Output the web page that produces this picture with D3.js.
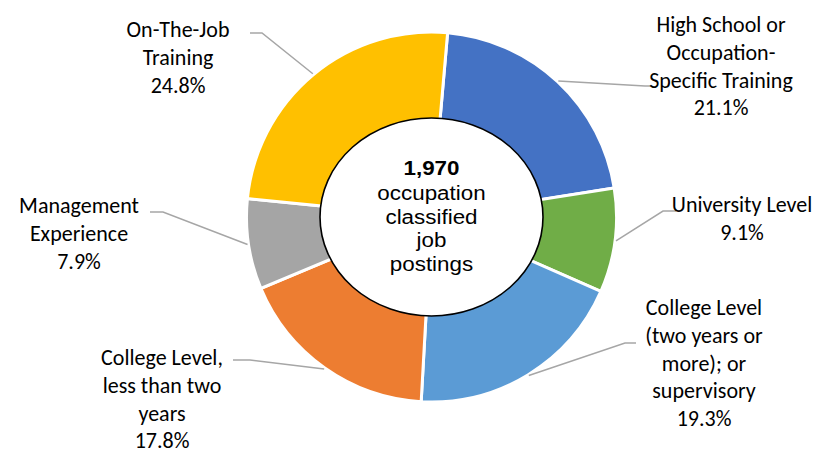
<!DOCTYPE html>
<html>
<head>
<meta charset="utf-8">
<script src="https://cdn.jsdelivr.net/npm/d3@7"></script>
<style>
	body { margin: 0; background: #fff; }
	svg { display: block; }
</style>
</head>
<body>
<div class="container"></div>
<script>
// chart values
var categories = [
	"High School or Occupation-Specific Training",
	"University Level",
	"College Level (two years or more); or supervisory",
	"College Level, less than two years",
	"Management Experience",
	"On-The-Job Training"
];
var shares = [21.1, 9.1, 19.3, 17.8, 7.9, 24.8];
var colors = ["#4472C4", "#70AD47", "#5B9BD5", "#ED7D31", "#A5A5A5", "#FFC000"];
var labelLines = [
	["High School or", "Occupation-", "Specific Training"],
	["University Level"],
	["College Level", "(two years or", "more); or", "supervisory"],
	["College Level,", "less than two", "years"],
	["Management", "Experience"],
	["On-The-Job", "Training"]
];
var totalPostings = "1,970";
var centerLines = ["occupation", "classified", "job", "postings"];

// label layout: text centre x, first baseline, elbow and end of leader
var labelLayout = [
	{x: 721, y: 32, elbow: [645, 86], end: [651, 86]},
	{x: 742, y: 212, elbow: [663, 211], end: [676, 211]},
	{x: 704, y: 315, elbow: [625, 343], end: [636, 343]},
	{x: 162, y: 365, elbow: [250, 360], end: [233, 360]},
	{x: 79, y: 213, elbow: [163, 212], end: [150, 212]},
	{x: 178, y: 37, elbow: [262, 33], end: [250, 33]}
];

var width = 840, height = 454;
var cx = 431.5, cy = 217, outerR = 185, innerR = 90;
var lineStep = 27.8;

var svg = d3.select(".container").append("svg")
	.attr("width", width)
	.attr("height", height);

var pie = d3.pie()
	.sort(null)
	.value(function(d) { return d; })
	.startAngle(5 * Math.PI / 180)
	.endAngle(2 * Math.PI + 5 * Math.PI / 180);

var arc = d3.arc()
	.innerRadius(innerR)
	.outerRadius(outerR);

var arcs = pie(shares);

var chart = svg.append("g").attr("transform", "translate(" + cx + "," + cy + ")");

chart.selectAll("path.slice")
	.data(arcs)
	.enter().append("path")
	.attr("class", "slice")
	.attr("d", arc)
	.style("fill", function(d, i) { return colors[i]; })
	.style("stroke", "#fff")
	.style("stroke-width", 3);

// centre ellipse and text
chart.append("ellipse")
	.attr("cx", 0)
	.attr("cy", 0)
	.attr("rx", 111.5)
	.attr("ry", 99)
	.style("fill", "#fff")
	.style("stroke", "#000")
	.style("stroke-width", 1.6);

var centerText = chart.append("g")
	.attr("transform", "scale(1.12,1.04)")
	.attr("font-family", "'Liberation Sans', Arial, sans-serif")
	.attr("font-size", 20)
	.attr("text-anchor", "middle")
	.attr("fill", "#000");

centerText.append("text")
	.attr("x", 0)
	.attr("y", (175 - cy) / 1.04)
	.attr("font-weight", "bold")
	.text(totalPostings);

centerText.selectAll("text.sub")
	.data(centerLines)
	.enter().append("text")
	.attr("class", "sub")
	.attr("x", 0)
	.attr("y", function(d, i) { return (200 - cy + i * 23.6) / 1.04; })
	.text(function(d) { return d; });

// leader lines
var lineGen = d3.line();
svg.selectAll("path.leader")
	.data(arcs)
	.enter().append("path")
	.attr("class", "leader")
	.attr("d", function(d, i) {
		var a = (d.startAngle + d.endAngle) / 2;
		var start = [cx + (outerR + 1) * Math.sin(a), cy - (outerR + 1) * Math.cos(a)];
		var lay = labelLayout[i];
		return lineGen([start, lay.elbow, lay.end]);
	})
	.style("fill", "none")
	.style("stroke", "#A6A6A6")
	.style("stroke-width", 1.5);

// labels
var labels = svg.selectAll("g.label")
	.data(arcs)
	.enter().append("g")
	.attr("class", "label")
	.attr("font-family", "Carlito, Calibri, Lato, sans-serif")
	.attr("font-size", 22)
	.attr("text-anchor", "middle")
	.attr("fill", "#000");

labels.each(function(d, i) {
	var g = d3.select(this);
	var lay = labelLayout[i];
	var lines = labelLines[i].concat([d3.format(".1f")(shares[i]) + "%"]);
	lines.forEach(function(t, j) {
		g.append("text")
			.attr("x", lay.x)
			.attr("y", lay.y + j * lineStep)
			.text(t);
	});
});
</script>
</body>
</html>
